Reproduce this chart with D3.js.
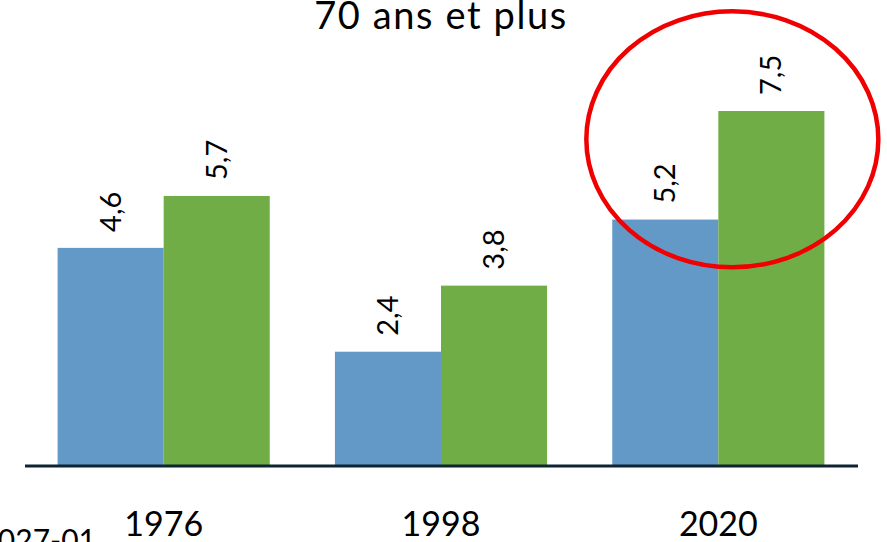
<!DOCTYPE html>
<html>
<head>
<meta charset="utf-8">
<script src="https://cdn.jsdelivr.net/npm/d3@7"></script>
<style>
  body { margin: 0; background: #fff; }
  svg { display: block; font-family: Lato, "Open Sans", sans-serif; }
</style>
</head>
<body>
<div id="chart"></div>
<script>
var years = ["1976", "1998", "2020"];
var series = ["a", "b"];
var valuesA = [4.6, 2.4, 5.2];
var valuesB = [5.7, 3.8, 7.5];
var title = "70 ans et plus";
var footnote = "2027-01";

var width = 887;
var height = 542;
var baseY = 465;

var color = d3.scaleOrdinal()
    .domain(series)
    .range(["#6399c6", "#70ad47"]);

var svg = d3.select("#chart")
    .append("svg")
    .attr("width", width)
    .attr("height", height);

var x0 = d3.scaleBand()
    .domain(years)
    .range([25, 857])
    .paddingInner(0.235)
    .paddingOuter(0.1175);

var x1 = d3.scaleBand()
    .domain(series)
    .range([0, x0.bandwidth()]);

var y = d3.scaleLinear()
    .domain([0, 8])
    .range([baseY, baseY - 8 * 47.2]);

var data = years.map(function (yr, i) {
    return { year: yr, vals: [
        { key: "a", value: valuesA[i] },
        { key: "b", value: valuesB[i] }
    ] };
});

var groups = svg.selectAll(".group")
    .data(data)
    .enter()
    .append("g")
    .attr("class", "group")
    .attr("transform", function (d) { return "translate(" + x0(d.year) + ",0)"; });

groups.selectAll("rect")
    .data(function (d) { return d.vals; })
    .enter()
    .append("rect")
    .attr("x", function (d) { return x1(d.key); })
    .attr("y", function (d) { return y(d.value); })
    .attr("width", x1.bandwidth())
    .attr("height", function (d) { return y(0) - y(d.value); })
    .attr("fill", function (d) { return color(d.key); });

// value labels, rotated
groups.selectAll(".val")
    .data(function (d) { return d.vals; })
    .enter()
    .append("text")
    .attr("class", "val")
    .attr("transform", function (d) {
        var cx = x1(d.key) + x1.bandwidth() / 2 + 10;
        return "translate(" + cx + "," + (y(d.value) - 16) + ") rotate(-90)";
    })
    .attr("font-size", 29)
    .attr("fill", "#000")
    .text(function (d) { return String(d.value).replace(".", ","); });

// baseline
svg.append("line")
    .attr("x1", 25)
    .attr("x2", 858)
    .attr("y1", y(0) + 1)
    .attr("y2", y(0) + 1)
    .attr("stroke", "#0e2433")
    .attr("stroke-width", 3);

// year labels
svg.selectAll(".year")
    .data(years)
    .enter()
    .append("text")
    .attr("class", "year")
    .attr("x", function (d) { return x0(d) + x0.bandwidth() / 2; })
    .attr("y", 536)
    .attr("text-anchor", "middle")
    .attr("font-size", 34)
    .attr("fill", "#000")
    .text(function (d) { return d; });

svg.append("text")
    .attr("x", 441)
    .attr("y", 29)
    .attr("text-anchor", "middle")
    .attr("font-size", 38)
    .attr("letter-spacing", 1.6)
    .attr("fill", "#000")
    .text(title);

svg.append("text")
    .attr("x", 96)
    .attr("y", 551)
    .attr("text-anchor", "end")
    .attr("font-size", 30)
    .attr("fill", "#000")
    .text(footnote);

// red highlight around 2020
svg.append("ellipse")
    .attr("cx", x0("2020") + x0.bandwidth() / 2 + 14)
    .attr("cy", y(6.9))
    .attr("rx", 146)
    .attr("ry", 128)
    .attr("fill", "none")
    .attr("stroke", "#f00000")
    .attr("stroke-width", 4.5);
</script>
</body>
</html>
